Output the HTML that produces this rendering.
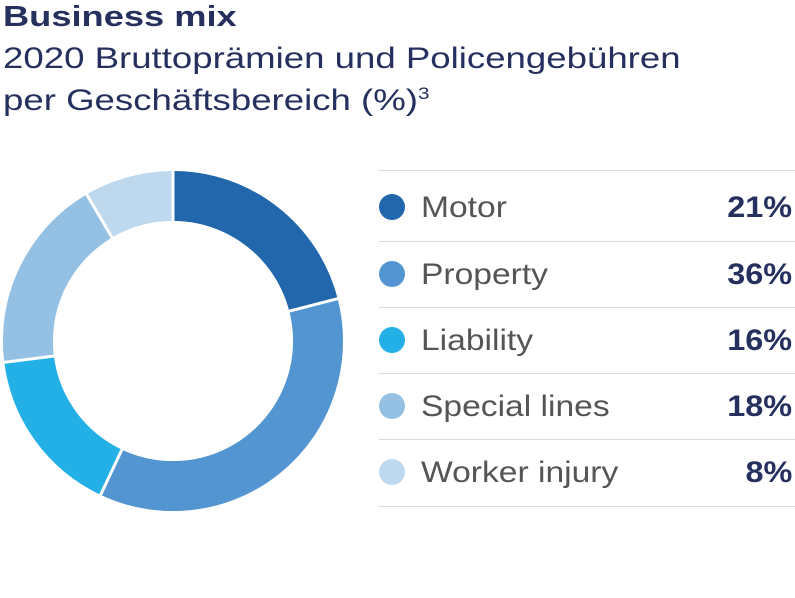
<!DOCTYPE html>
<html><head><meta charset="utf-8"><style>
body{margin:0;width:795px;height:598px;background:#fff;font-family:"Liberation Sans",sans-serif;overflow:hidden;position:relative}
.t{position:absolute;left:3px;color:#26305e;white-space:nowrap;transform-origin:0 0}
.row{position:absolute;left:379px;width:416px;height:66px;border-top:1.5px solid #d9d9d9}
.dot{position:absolute;left:0px;width:26px;height:26px;border-radius:50%}
.lab{position:absolute;left:42px;font-size:30px;color:#555;transform:scaleX(1.12);transform-origin:0 0;white-space:nowrap}
.pct{position:absolute;right:3px;font-size:30px;font-weight:bold;color:#26305e;transform:scaleX(1.08);transform-origin:100% 0}
</style></head><body>
<div class="t" style="top:1px;font-size:29px;font-weight:bold;transform:scaleX(1.25)">Business mix</div>
<div class="t" style="top:42px;font-size:30px;transform:scaleX(1.22)">2020 Bruttoprämien und Policengebühren</div>
<div class="t" style="top:84px;font-size:30px;transform:scaleX(1.22)">per Geschäftsbereich (%)<sup style="font-size:17px">3</sup></div>
<svg style="position:absolute;left:0;top:0" width="795" height="598">
<g transform="translate(173,341) rotate(-90)" fill="none" stroke-width="50">
<circle r="145" pathLength="100" stroke="#bed9ee" stroke-dasharray="100 100"/>
<circle r="145" pathLength="100" stroke="#2266ac" stroke-dasharray="21 100" stroke-dashoffset="0"/>
<circle r="145" pathLength="100" stroke="#5395d0" stroke-dasharray="36 100" stroke-dashoffset="-21"/>
<circle r="145" pathLength="100" stroke="#22b0e6" stroke-dasharray="16 100" stroke-dashoffset="-57"/>
<circle r="145" pathLength="100" stroke="#93c0e3" stroke-dasharray="18.5 100" stroke-dashoffset="-73"/>
</g>
<g transform="translate(173,341)" stroke="#fff" stroke-width="3">
<line x1="0" y1="0" x2="0" y2="-175" transform="rotate(0)"/>
<line x1="0" y1="0" x2="0" y2="-175" transform="rotate(75.6)"/>
<line x1="0" y1="0" x2="0" y2="-175" transform="rotate(205.2)"/>
<line x1="0" y1="0" x2="0" y2="-175" transform="rotate(262.8)"/>
<line x1="0" y1="0" x2="0" y2="-175" transform="rotate(329.5)"/>
</g>
<circle cx="173" cy="341" r="120" fill="#fff"/>
</svg>
<div class="row" style="top:170px"><div class="dot" style="top:23px;background:#2266ac"></div><div class="lab" style="top:20px">Motor</div><div class="pct" style="top:20px">21%</div></div>
<div class="row" style="top:241px"><div class="dot" style="top:19px;background:#5395d0"></div><div class="lab" style="top:16px">Property</div><div class="pct" style="top:16px">36%</div></div>
<div class="row" style="top:307px"><div class="dot" style="top:19px;background:#22b0e6"></div><div class="lab" style="top:16px">Liability</div><div class="pct" style="top:16px">16%</div></div>
<div class="row" style="top:373px"><div class="dot" style="top:19px;background:#93c0e3"></div><div class="lab" style="top:16px">Special lines</div><div class="pct" style="top:16px">18%</div></div>
<div class="row" style="top:439px;border-bottom:1.5px solid #d9d9d9"><div class="dot" style="top:19px;background:#bed9ee"></div><div class="lab" style="top:16px">Worker injury</div><div class="pct" style="top:16px">8%</div></div>
</body></html>
